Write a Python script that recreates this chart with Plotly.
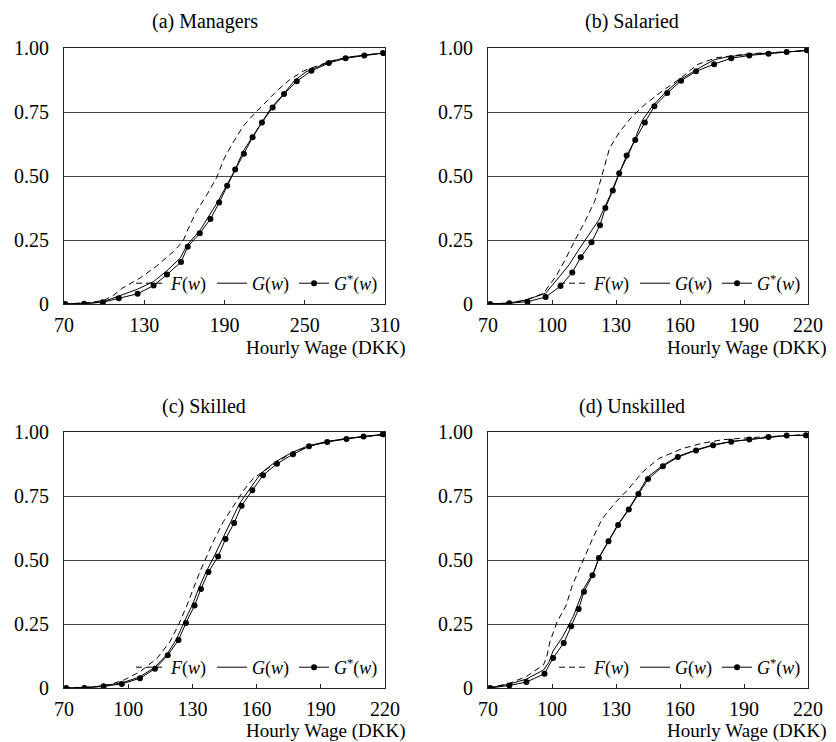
import plotly.graph_objects as go

# ---------------- data ----------------
# (a) Managers
a_Gs_x = [71, 85, 99, 111, 125, 137, 147, 157.5, 162.5, 171.5, 179.5, 186, 192, 198, 204.5, 211, 218, 226, 234.5, 244, 255, 268, 280.5, 294.5, 308.5]
a_Gs_y = [0.0, 0.001, 0.007, 0.022, 0.04, 0.072, 0.115, 0.164, 0.224, 0.276, 0.332, 0.396, 0.462, 0.525, 0.587, 0.651, 0.709, 0.768, 0.82, 0.87, 0.911, 0.941, 0.96, 0.971, 0.98]
a_G_x = [70, 90, 100, 106, 115, 125, 137, 147, 157, 162, 172, 179, 185, 192, 198, 204, 212, 219, 225, 234, 242, 251, 268, 280, 295, 310]
a_G_y = [0, 0.004, 0.01, 0.022, 0.037, 0.058, 0.088, 0.13, 0.18, 0.23, 0.29, 0.349, 0.40, 0.467, 0.525, 0.597, 0.662, 0.721, 0.767, 0.819, 0.871, 0.907, 0.945, 0.962, 0.973, 0.981]
a_F_x = [70, 90, 100, 106, 114, 127, 139, 152, 159, 160, 162, 169, 177, 184, 190, 197, 204, 212, 219, 229, 239, 249, 254, 270, 290, 310]
a_F_y = [0, 0.006, 0.015, 0.03, 0.063, 0.102, 0.147, 0.206, 0.245, 0.26, 0.284, 0.362, 0.428, 0.493, 0.571, 0.636, 0.695, 0.741, 0.78, 0.832, 0.877, 0.91, 0.92, 0.95, 0.97, 0.98]

# (b) Salaried
b_Gs_x = [71, 80, 88.5, 97, 104, 109.5, 113.5, 118.5, 122.5, 125, 128.5, 131.5, 135, 139, 143.5, 148, 154, 160.5, 167.5, 176, 184, 192.5, 201.5, 210, 219.5]
b_Gs_y = [0, 0.003, 0.009, 0.027, 0.07, 0.123, 0.183, 0.241, 0.308, 0.375, 0.443, 0.511, 0.58, 0.641, 0.709, 0.772, 0.824, 0.872, 0.909, 0.937, 0.96, 0.971, 0.978, 0.984, 0.991]
b_G_x = [70, 80, 88, 97, 103.5, 108, 113, 117.5, 122, 127, 131.5, 136.5, 140, 142.5, 147, 153.5, 160, 169, 176, 182, 192, 205, 220]
b_G_y = [0, 0.004, 0.016, 0.042, 0.107, 0.153, 0.218, 0.276, 0.329, 0.42, 0.511, 0.596, 0.668, 0.72, 0.772, 0.83, 0.876, 0.922, 0.954, 0.965, 0.975, 0.983, 0.99]
b_F_x = [70, 80, 88, 96, 102, 106, 110.5, 115.5, 120, 122.5, 124, 127, 131.5, 137, 143.5, 151.5, 160.5, 168, 177, 193, 220]
b_F_y = [0, 0.003, 0.016, 0.042, 0.11, 0.17, 0.245, 0.323, 0.401, 0.479, 0.518, 0.609, 0.67, 0.727, 0.779, 0.831, 0.883, 0.935, 0.962, 0.978, 0.99]

# (c) Skilled
c_Gs_x = [71, 79.5, 88.5, 97, 105.5, 112.5, 118.5, 123.5, 127, 131, 134, 137.5, 142, 145.5, 149.5, 153, 158, 163, 169.5, 177, 184.5, 193, 202, 210, 219]
c_Gs_y = [0, 0.0, 0.0065, 0.016, 0.038, 0.075, 0.128, 0.1875, 0.254, 0.322, 0.387, 0.453, 0.514, 0.582, 0.645, 0.712, 0.772, 0.831, 0.876, 0.913, 0.944, 0.961, 0.973, 0.982, 0.991]
c_G_x = [70, 80, 88, 97, 105, 112, 118, 122.5, 126, 130, 133, 136.5, 140.5, 144.5, 148.5, 152, 157, 162, 168.5, 176, 184, 193, 202, 210, 220]
c_G_y = [0, 0.002, 0.008, 0.02, 0.042, 0.078, 0.13, 0.19, 0.255, 0.325, 0.39, 0.455, 0.52, 0.59, 0.655, 0.72, 0.78, 0.838, 0.882, 0.918, 0.946, 0.963, 0.975, 0.983, 0.99]
c_F_x = [70, 85, 92, 98, 105.5, 113.5, 119.5, 123.5, 127.5, 130.5, 133.5, 137, 140.5, 144.5, 149.5, 154, 158.5, 165, 171, 178, 186, 195, 205, 220]
c_F_y = [0, 0.005, 0.015, 0.031, 0.064, 0.116, 0.181, 0.246, 0.324, 0.389, 0.454, 0.52, 0.585, 0.65, 0.715, 0.773, 0.819, 0.858, 0.891, 0.925, 0.948, 0.965, 0.977, 0.99]

# (d) Unskilled
d_Gs_x = [71, 80, 88, 96.5, 100.5, 105.5, 109, 112.5, 115, 119, 122, 126.5, 131, 136, 140.5, 145, 152, 159, 167.5, 175.5, 184, 192.5, 201.5, 210, 219]
d_Gs_y = [0, 0.01, 0.023, 0.056, 0.117, 0.176, 0.241, 0.309, 0.376, 0.44, 0.508, 0.573, 0.637, 0.697, 0.758, 0.816, 0.866, 0.902, 0.928, 0.948, 0.962, 0.971, 0.98, 0.986, 0.987]
d_G_x = [70, 80, 88, 96, 98.5, 100.5, 105, 110, 115, 120, 122, 126.5, 131, 136, 140.5, 145, 152, 159, 167.5, 175.5, 184, 193, 202, 210, 220]
d_G_y = [0, 0.015, 0.035, 0.07, 0.1, 0.145, 0.2, 0.28, 0.39, 0.46, 0.51, 0.575, 0.64, 0.70, 0.762, 0.825, 0.87, 0.905, 0.93, 0.95, 0.963, 0.972, 0.98, 0.986, 0.988]
d_F_x = [70, 80, 88, 96, 97.5, 99, 102.5, 106.5, 109.5, 114, 119, 123.5, 130, 136, 142.5, 150, 161, 170, 180, 193, 220]
d_F_y = [0, 0.018, 0.045, 0.09, 0.12, 0.18, 0.26, 0.32, 0.40, 0.49, 0.583, 0.661, 0.727, 0.779, 0.844, 0.896, 0.935, 0.955, 0.97, 0.978, 0.99]

panel_titles = ["(a) Managers", "(b) Salaried", "(c) Skilled", "(d) Unskilled"]
x_ticks_a = [70, 130, 190, 250, 310]
x_ticks_other = [70, 100, 130, 160, 190, 220]
y_tickvals = [0, 0.25, 0.5, 0.75, 1.0]
y_ticktext = ["0", "0.25", "0.50", "0.75", "1.00"]
x_title = "Hourly Wage (DKK)"
series_names = ["<i>F</i>(<i>w</i>)", "<i>G</i>(<i>w</i>)", "<i>G</i><sup>*</sup>(<i>w</i>)"]

# ---------------- figure ----------------
W, H = 836, 742
FONT = "Liberation Serif, Times New Roman, DejaVu Serif, serif"
FS = 20

panels = [
    dict(F=(a_F_x, a_F_y), G=(a_G_x, a_G_y), Gs=(a_Gs_x, a_Gs_y), xr=[70, 310], xt=x_ticks_a,
         px=(64, 385), py=(48, 304), title_x=205, title_y=22, xt_right=408, xt_y=348),
    dict(F=(b_F_x, b_F_y), G=(b_G_x, b_G_y), Gs=(b_Gs_x, b_Gs_y), xr=[70, 220], xt=x_ticks_other,
         px=(488, 808), py=(48, 304), title_x=632, title_y=22, xt_right=829, xt_y=348),
    dict(F=(c_F_x, c_F_y), G=(c_G_x, c_G_y), Gs=(c_Gs_x, c_Gs_y), xr=[70, 220], xt=x_ticks_other,
         px=(64, 385), py=(432, 688), title_x=204, title_y=406, xt_right=408, xt_y=731),
    dict(F=(d_F_x, d_F_y), G=(d_G_x, d_G_y), Gs=(d_Gs_x, d_Gs_y), xr=[70, 220], xt=x_ticks_other,
         px=(488, 808), py=(432, 688), title_x=632, title_y=406, xt_right=829, xt_y=731),
]

fig = go.Figure()
layout = dict(width=W, height=H, margin=dict(l=0, r=0, t=0, b=0),
              paper_bgcolor="white", plot_bgcolor="white",
              font=dict(family=FONT, size=FS, color="black"),
              showlegend=True, annotations=[])

for i, p in enumerate(panels):
    n = "" if i == 0 else str(i + 1)
    xa, ya = "x" + n, "y" + n
    leg = "legend" + n
    x0, x1 = p["px"][0] / W, p["px"][1] / W
    y0, y1 = (H - p["py"][1]) / H, (H - p["py"][0]) / H

    fig.add_trace(go.Scatter(x=p["F"][0], y=p["F"][1], mode="lines", name=series_names[0],
                             line=dict(color="black", width=1, dash="6px,4px"),
                             xaxis=xa, yaxis=ya, legend=leg))
    fig.add_trace(go.Scatter(x=p["G"][0], y=p["G"][1], mode="lines", name=series_names[1],
                             line=dict(color="black", width=1),
                             xaxis=xa, yaxis=ya, legend=leg))
    fig.add_trace(go.Scatter(x=p["Gs"][0], y=p["Gs"][1], mode="lines+markers", name=series_names[2],
                             line=dict(color="black", width=1),
                             marker=dict(color="black", size=6),
                             xaxis=xa, yaxis=ya, legend=leg))

    layout["xaxis" + n] = dict(domain=[x0, x1], anchor=ya, range=p["xr"], tickvals=p["xt"],
                               showgrid=False, zeroline=False, showline=True, linecolor="#222",
                               linewidth=1, mirror=True, ticks="inside", ticklen=4, tickcolor="#222",
                               ticklabelstandoff=3, automargin=False,
                               tickfont=dict(family=FONT, size=FS, color="black"))
    layout["yaxis" + n] = dict(domain=[y0, y1], anchor=xa, range=[0, 1], tickvals=y_tickvals,
                               ticktext=y_ticktext, showgrid=True, gridcolor="#444", gridwidth=1,
                               zeroline=False, showline=True, linecolor="#222", linewidth=1,
                               mirror=True, ticks="", ticklabelstandoff=10, automargin=False,
                               tickfont=dict(family=FONT, size=FS, color="black"))
    layout[leg] = dict(orientation="h", xanchor="right", yanchor="bottom",
                       x=x1 - 2 / W, y=y0 + 2 / H, bgcolor="rgba(0,0,0,0)",
                       font=dict(family=FONT, size=18, color="black"),
                       itemwidth=30, tracegroupgap=0)

    layout["annotations"].append(dict(text=panel_titles[i], xref="paper", yref="paper",
                                      x=p["title_x"] / W, y=(H - p["title_y"]) / H,
                                      xanchor="center", yanchor="middle", showarrow=False,
                                      font=dict(family=FONT, size=FS, color="black")))
    layout["annotations"].append(dict(text=x_title, xref="paper", yref="paper",
                                      x=p["xt_right"] / W, y=(H - p["xt_y"]) / H,
                                      xanchor="right", yanchor="middle", showarrow=False,
                                      font=dict(family=FONT, size=19, color="black")))

fig.update_layout(**layout)
fig.write_html("out.html", config={"displayModeBar": False},
               post_script="document.body.style.margin='0';document.body.style.padding='0';")
